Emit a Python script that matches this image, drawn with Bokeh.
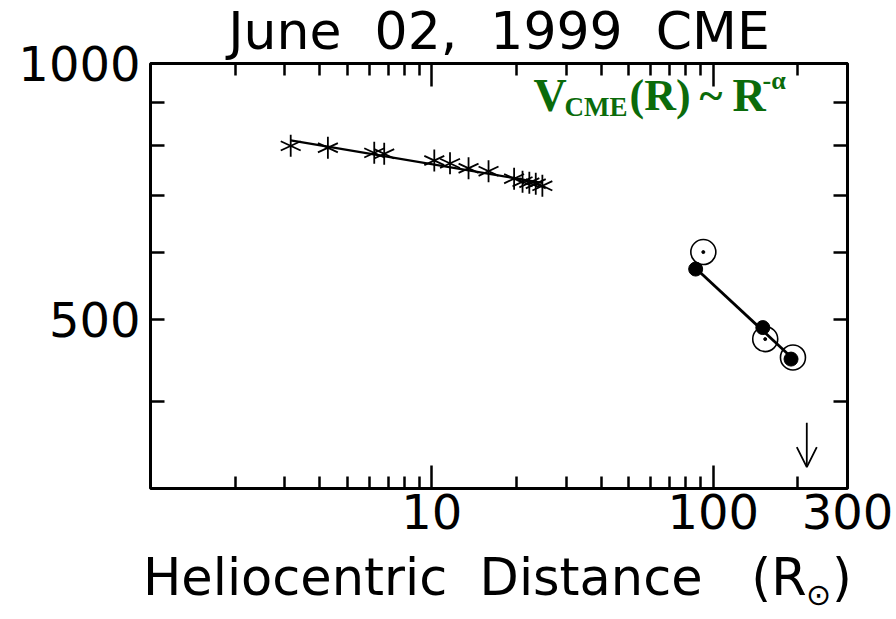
import numpy as np
from bokeh.plotting import figure
from bokeh.models import (LogAxis, LinearAxis, FixedTicker, PrintfTickFormatter, Label,
                          Arrow, OpenHead, ColumnDataSource, CustomJSTickFormatter,
                          Range1d, LinearScale)
from bokeh.embed import file_html
from bokeh.resources import INLINE

# ---------------- data ----------------
NB = "\u00a0"
title_text = f"June{NB}{NB}02,{NB}{NB}1999{NB}{NB}CME"
x_label_main = f"Heliocentric{NB}{NB}Distance{NB}{NB}{NB}(R\u2002)"
x_label_sub = "⊙"

x_major = [10, 100, 300]
x_minor = [2, 3, 4, 5, 6, 7, 8, 9, 20, 30, 40, 50, 60, 70, 80, 90, 200]
y_major = [500, 1000]
y_minor = [400, 600, 700, 800, 900]

# LASCO (coronagraph) height-time derived speeds
lasco_r = [3.15, 4.27, 6.24, 6.77, 10.2, 11.6, 13.5, 15.9, 19.6, 21.0, 22.2, 23.4, 24.7]
lasco_v = [800, 796, 785, 783, 769, 763, 753, 747, 732, 726, 724, 722, 718]

# IPS speeds (open circles) and model speeds (filled)
ips_r = [92.2, 153, 192]
ips_v = [600, 474, 451]
fit_r = [86.6, 150, 189]
fit_v = [573, 489, 449]

AU_RSUN = 215          # 1 AU marker
ARROW_V = [378, 335]

GREEN = "#0b6b0b"

# ---------------- figure ----------------
FL, FR, FT, FB = 150, 847, 63, 488   # frame edges in canvas px
p = figure(width=896, height=619, x_axis_type="log", y_axis_type="log",
           x_range=(1, 300), y_range=(10 ** 2.5, 1000),
           output_backend="svg", toolbar_location=None,
           min_border_left=FL, min_border_right=896 - FR,
           min_border_top=FT, min_border_bottom=619 - FB)
p.grid.visible = False
p.background_fill_color = "white"
p.border_fill_color = "white"
p.outline_line_color = "black"
p.outline_line_width = 3

p.title.text = title_text
p.title.align = "center"
p.title.vertical_align = "top"
p.title.text_font = "DejaVu Sans"
p.title.text_font_style = "normal"
p.title.text_font_size = "52px"
p.title.text_color = "black"
p.title.standoff = 1

xt = FixedTicker(ticks=x_major, minor_ticks=x_minor)
yt = FixedTicker(ticks=y_major, minor_ticks=y_minor)


def style_axis(ax, major_in, minor_in, show_labels):
    ax.axis_line_color = None
    ax.major_tick_in = major_in
    ax.major_tick_out = 0
    ax.minor_tick_in = minor_in
    ax.minor_tick_out = 0
    ax.major_tick_line_width = 2.5
    ax.minor_tick_line_width = 2.5
    ax.major_tick_line_color = "black"
    ax.minor_tick_line_color = "black"
    if show_labels:
        ax.formatter = PrintfTickFormatter(format="%d")
        ax.major_label_text_font = "DejaVu Sans"
        ax.major_label_text_font_size = "48px"
        ax.major_label_text_color = "black"
    else:
        ax.formatter = CustomJSTickFormatter(code="return ''")
        ax.major_label_text_font_size = "1px"
        ax.major_label_standoff = 0


for ax in p.xaxis:
    ax.ticker = xt
    style_axis(ax, 23, 12, True)
    ax.major_label_standoff = 5
for ax in p.yaxis:
    ax.ticker = yt
    style_axis(ax, 14, 14, True)
    ax.major_label_standoff = 10

top = LogAxis(ticker=FixedTicker(ticks=x_major, minor_ticks=x_minor))
style_axis(top, 23, 12, False)
p.add_layout(top, "above")
right = LogAxis(ticker=FixedTicker(ticks=y_major, minor_ticks=y_minor))
style_axis(right, 14, 14, False)
p.add_layout(right, "right")

# x-axis title drawn as tick labels of bare axes on a pixel-like range
p.extra_x_ranges = {"px": Range1d(FL, FR)}
p.extra_x_scales = {"px": LinearScale()}


def title_axis(text, center, size, standoff):
    ax = LinearAxis(x_range_name="px", ticker=FixedTicker(ticks=[center]),
                    formatter=CustomJSTickFormatter(args=dict(t=text), code="return t"))
    ax.axis_line_color = None
    ax.major_tick_line_color = None
    ax.minor_tick_line_color = None
    ax.major_tick_in = 0
    ax.major_tick_out = 0
    ax.minor_tick_in = 0
    ax.minor_tick_out = 0
    ax.major_label_text_font = "DejaVu Sans"
    ax.major_label_text_font_size = size
    ax.major_label_text_color = "black"
    ax.major_label_standoff = standoff
    p.add_layout(ax, "below")


title_axis(x_label_main, 497, "51px", 16)
title_axis(x_label_sub, 818, "30px", -33)

# ---------------- glyphs ----------------
src = ColumnDataSource(dict(r=lasco_r, v=lasco_v))
for ang in (90, 25, -25):
    p.scatter("r", "v", source=src, marker="dash", size=22, angle=ang,
              angle_units="deg", line_color="black", line_width=1.8)

lr, lv = np.log10(lasco_r), np.log10(lasco_v)
c1 = np.polyfit(lr, lv, 1)
xr1 = np.array([min(lasco_r), max(lasco_r)])
p.line(xr1, 10 ** np.polyval(c1, np.log10(xr1)), line_color="black", line_width=2.2)

fr, fv = np.log10(fit_r), np.log10(fit_v)
c2 = np.polyfit(fr, fv, 1)
xr2 = np.array([min(fit_r), max(fit_r)])
p.line(xr2, 10 ** np.polyval(c2, np.log10(xr2)), line_color="black", line_width=2.8)

p.scatter(ips_r, ips_v, marker="circle", size=25, fill_color=None,
          line_color="black", line_width=1.6)
p.scatter(ips_r, ips_v, marker="circle", size=3, fill_color="black",
          line_color="black")
p.scatter(fit_r, fit_v, marker="circle", size=14, fill_color="black",
          line_color="black")

p.add_layout(Arrow(end=OpenHead(size=20, line_width=1.8, line_color="black"),
                   x_start=AU_RSUN, y_start=ARROW_V[0], x_end=AU_RSUN, y_end=ARROW_V[1],
                   line_width=1.8, line_color="black"))

# ---------------- in-frame formula ----------------
ser = "Liberation Serif"
for txt, xc, yc, sz in [("V", 533, 95, "46px"), ("CME", 564, 106, "27px"),
                        ("(R)", 629, 95, "44px"), ("~", 699, 95, "44px"),
                        ("R", 732, 95, "46px"), ("-α", 762, 80, "26px")]:
    p.add_layout(Label(x=xc - FL, y=FB - yc, x_units="screen", y_units="screen",
                       text=txt, text_font=ser, text_font_size=sz,
                       text_color=GREEN, text_font_style="bold",
                       text_baseline="alphabetic", text_align="left"))

open("out.html", "w").write(file_html(p, INLINE))
